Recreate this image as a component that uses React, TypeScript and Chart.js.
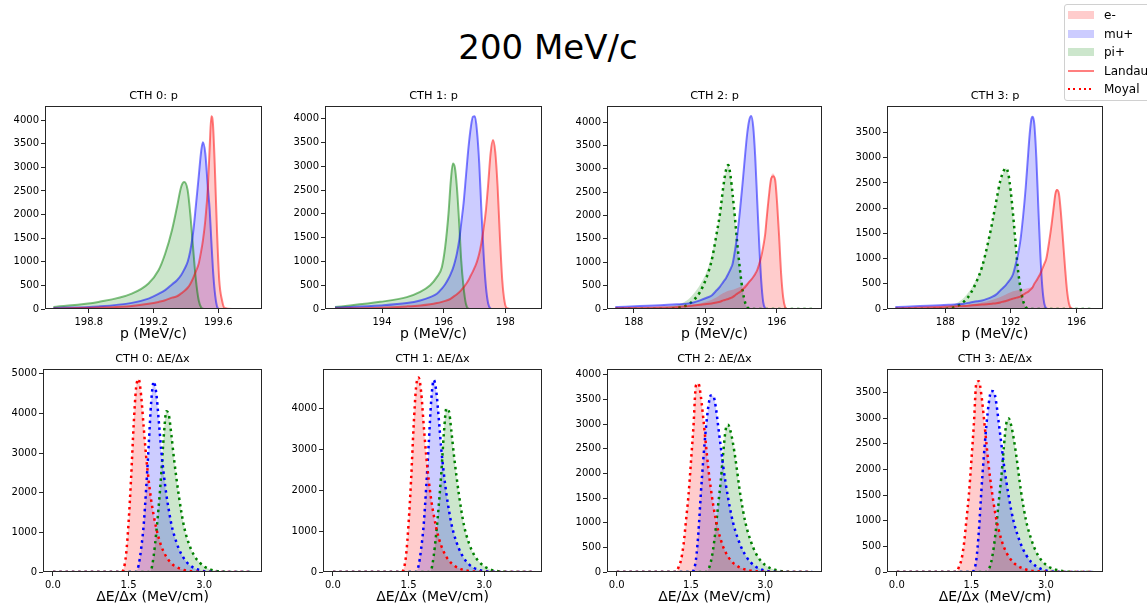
import React, { useEffect, useRef } from "react";
import { Chart, registerables } from "chart.js";

Chart.register(...registerables);

const FONT = "'DejaVu Sans', 'Liberation Sans', Arial, sans-serif";

// ---------------- text ----------------
const FIG_TITLE = "200 MeV/c";
const SPECIES = ["e-", "mu+", "pi+"];
const FIT_NAMES = ["Landau", "Moyal"];
const TITLES_P = ["CTH 0: p", "CTH 1: p", "CTH 2: p", "CTH 3: p"];
const TITLES_DEDX = ["CTH 0: ΔE/Δx", "CTH 1: ΔE/Δx", "CTH 2: ΔE/Δx", "CTH 3: ΔE/Δx"];
const XTITLE_P = "p (MeV/c)";
const XTITLE_DEDX = "ΔE/Δx (MeV/cm)";

// ---------------- ticks ----------------
const P_XTICKS_CTH0 = [198.8, 199.2, 199.6];
const P_XTICK_LABELS_CTH0 = ["198.8", "199.2", "199.6"];
const P_XTICKS_CTH1 = [194, 196, 198];
const P_XTICK_LABELS_CTH1 = ["194", "196", "198"];
const P_XTICKS_CTH2 = [188, 192, 196];
const P_XTICK_LABELS_CTH2 = ["188", "192", "196"];
const P_XTICKS_CTH3 = [188, 192, 196];
const P_XTICK_LABELS_CTH3 = ["188", "192", "196"];
const DEDX_XTICKS = [0, 1.5, 3.0];
const DEDX_XTICK_LABELS = ["0.0", "1.5", "3.0"];

const YTICKS_4000_500 = [0, 500, 1000, 1500, 2000, 2500, 3000, 3500, 4000];
const YTICKS_3500_500 = [0, 500, 1000, 1500, 2000, 2500, 3000, 3500];
const YTICKS_5000_1000 = [0, 1000, 2000, 3000, 4000, 5000];
const YTICKS_4000_1000 = [0, 1000, 2000, 3000, 4000];

// ---------------- axis ranges ----------------
const P_XRANGE_CTH0 = [198.53, 199.87];
const P_XRANGE_CTH1 = [192.15, 199.19];
const P_XRANGE_CTH2 = [186.5, 198.53];
const P_XRANGE_CTH3 = [184.44, 197.62];
const DEDX_XRANGE = [-0.1975, 4.1475];
const P_YMAX = [4300, 4267, 4343, 4027];
const DEDX_YMAX = [5118, 4969, 4115, 3958];

// ---------------- momentum data ----------------
const P_X_CTH0 = [198.582, 198.86, 199.066, 199.169, 199.231, 199.272, 199.314, 199.345, 199.371, 199.39, 199.411, 199.427, 199.444, 199.462, 199.479, 199.495, 199.505, 199.52, 199.536, 199.547, 199.557, 199.567, 199.578, 199.592, 199.606, 199.623, 199.639, 199.685, 199.798];
const P_EM_CTH0 = [8, 30, 65, 110, 150, 185, 240, 270, 330, 380, 450, 530, 650, 800, 960, 1240, 1450, 1880, 2590, 3435, 4085, 3930, 3080, 1670, 610, 185, 20, 0, 0];
const P_MU_CTH0 = [20, 55, 130, 220, 320, 400, 520, 610, 720, 840, 1000, 1230, 1600, 2200, 2800, 3360, 3530, 3290, 2560, 2100, 1455, 850, 380, 60, 0, 0, 0, 0, 0];
const P_PI_CTH0 = [40, 150, 325, 540, 820, 1170, 1670, 2160, 2590, 2690, 2515, 2020, 1315, 610, 185, 30, 5, 0, 0, 0, 0, 0, 0, 0, 0, 0, 0, 0, 0];

const P_X_CTH1 = [192.475, 193.937, 194.804, 195.237, 195.562, 195.778, 195.941, 196.049, 196.157, 196.233, 196.298, 196.363, 196.428, 196.504, 196.569, 196.645, 196.721, 196.807, 196.883, 196.948, 197.013, 197.078, 197.154, 197.219, 197.295, 197.371, 197.446, 197.522, 197.598, 197.674, 197.75, 197.825, 197.901, 197.977, 198.053, 198.27, 198.865];
const P_EM_CTH1 = [8, 28, 55, 75, 100, 125, 150, 170, 195, 220, 250, 280, 310, 350, 395, 455, 520, 610, 710, 790, 885, 990, 1165, 1375, 1690, 2080, 2640, 3270, 3550, 3300, 2570, 1515, 605, 150, 20, 0, 0];
const P_MU_CTH1 = [30, 75, 125, 180, 250, 320, 430, 520, 640, 745, 850, 990, 1165, 1445, 1800, 2220, 2780, 3410, 3830, 4040, 4050, 3760, 3060, 2150, 1165, 465, 110, 10, 0, 0, 0, 0, 0, 0, 0, 0, 0];
const P_PI_CTH1 = [40, 150, 250, 360, 500, 670, 880, 1305, 2010, 2710, 3060, 2975, 2570, 1800, 1025, 460, 110, 5, 0, 0, 0, 0, 0, 0, 0, 0, 0, 0, 0, 0, 0, 0, 0, 0, 0, 0, 0];

const P_X_CTH2 = [186.965, 189.475, 190.405, 190.963, 191.334, 191.706, 192.078, 192.357, 192.636, 192.822, 193.008, 193.157, 193.287, 193.417, 193.529, 193.659, 193.789, 193.938, 194.086, 194.235, 194.347, 194.458, 194.57, 194.681, 194.793, 194.904, 195.016, 195.128, 195.239, 195.351, 195.425, 195.555, 195.686, 195.797, 195.909, 196.02, 196.132, 196.243, 196.355, 196.467, 196.578, 196.913, 197.98];
const P_EM_HIST_CTH2 = [15, 30, 45, 60, 90, 120, 160, 200, 250, 300, 340, 370, 390, 400, 410, 430, 450, 470, 500, 530, 560, 600, 640, 690, 750, 830, 960, 1115, 1330, 1600, 1950, 2450, 2850, 2900, 2780, 2255, 1545, 755, 255, 40, 0, 0, 0];
const P_EM_FIT_CTH2 = [15, 30, 45, 60, 75, 90, 105, 120, 140, 155, 185, 200, 215, 235, 255, 290, 330, 365, 420, 470, 520, 580, 630, 685, 750, 830, 960, 1115, 1330, 1600, 1900, 2400, 2790, 2840, 2760, 2255, 1545, 755, 255, 40, 0, 0, 0];
const P_MU_CTH2 = [45, 80, 100, 115, 140, 185, 240, 290, 400, 480, 580, 660, 755, 860, 970, 1250, 1580, 2100, 2690, 3330, 3760, 4040, 4130, 3900, 3260, 2330, 1400, 615, 150, 15, 0, 0, 0, 0, 0, 0, 0, 0, 0, 0, 0, 0, 0];
const P_PI_HIST_CTH2 = [30, 50, 90, 180, 320, 520, 800, 1150, 1650, 2050, 2600, 2950, 3100, 2850, 2450, 1950, 1400, 850, 400, 130, 40, 8, 0, 0, 0, 0, 0, 0, 0, 0, 0, 0, 0, 0, 0, 0, 0, 0, 0, 0, 0, 0, 0];
const P_PI_FIT_CTH2 = [0, 0, 20, 80, 185, 365, 685, 1040, 1615, 2040, 2615, 2970, 3080, 2830, 2450, 1950, 1400, 850, 400, 130, 40, 8, 0, 0, 0, 0, 0, 0, 0, 0, 0, 0, 0, 0, 0, 0, 0, 0, 0, 0, 0, 0, 0];

const P_X_CTH3 = [184.949, 187.694, 188.305, 188.711, 189.118, 189.525, 189.932, 190.237, 190.542, 190.847, 191.112, 191.356, 191.559, 191.701, 191.844, 191.986, 192.129, 192.271, 192.413, 192.576, 192.739, 192.901, 193.023, 193.146, 193.247, 193.329, 193.43, 193.552, 193.674, 193.796, 193.918, 194.04, 194.162, 194.346, 194.488, 194.61, 194.712, 194.813, 194.935, 195.057, 195.18, 195.302, 195.424, 195.546, 195.668, 195.83, 197.02];
const P_EM_HIST_CTH3 = [12, 40, 50, 60, 70, 90, 110, 130, 150, 180, 210, 240, 270, 290, 310, 330, 350, 360, 370, 380, 390, 400, 410, 420, 430, 450, 500, 560, 630, 700, 800, 895, 1000, 1360, 1700, 2050, 2330, 2380, 2280, 1885, 1360, 830, 370, 105, 20, 0, 0];
const P_EM_FIT_CTH3 = [12, 40, 48, 55, 60, 70, 80, 88, 95, 105, 115, 130, 150, 160, 175, 190, 205, 220, 230, 245, 280, 315, 335, 370, 400, 430, 500, 560, 630, 700, 800, 895, 1000, 1360, 1690, 2015, 2280, 2360, 2280, 1885, 1360, 830, 370, 105, 20, 0, 0];
const P_MU_CTH3 = [40, 72, 85, 95, 105, 130, 155, 170, 200, 240, 290, 370, 430, 480, 540, 600, 690, 860, 1050, 1350, 1820, 2400, 2940, 3470, 3765, 3815, 3665, 3005, 2015, 1095, 435, 105, 15, 0, 0, 0, 0, 0, 0, 0, 0, 0, 0, 0, 0, 0, 0];
const P_PI_HIST_CTH3 = [20, 40, 70, 120, 220, 380, 620, 870, 1250, 1700, 2150, 2520, 2720, 2790, 2680, 2345, 1885, 1360, 830, 435, 170, 40, 10, 2, 0, 0, 0, 0, 0, 0, 0, 0, 0, 0, 0, 0, 0, 0, 0, 0, 0, 0, 0, 0, 0, 0, 0];
const P_PI_FIT_CTH3 = [0, 0, 15, 55, 140, 300, 565, 830, 1225, 1690, 2150, 2545, 2740, 2795, 2680, 2345, 1885, 1360, 830, 435, 170, 40, 10, 2, 0, 0, 0, 0, 0, 0, 0, 0, 0, 0, 0, 0, 0, 0, 0, 0, 0, 0, 0, 0, 0, 0, 0];

// ---------------- dE/dx data ----------------
const DEDX_X = [0, 0.5, 1.0, 1.2, 1.25, 1.3, 1.35, 1.4, 1.45, 1.5, 1.55, 1.6, 1.65, 1.7, 1.75, 1.8, 1.85, 1.9, 1.95, 2.0, 2.05, 2.1, 2.15, 2.2, 2.25, 2.3, 2.35, 2.4, 2.5, 2.6, 2.7, 2.8, 2.9, 3.0, 3.1, 3.2, 3.4, 3.6, 3.95];
const DEDX_EM_CTH0 = [0, 0, 0, 0, 0, 0, 0, 70, 430, 1240, 2360, 3670, 4650, 4860, 4440, 3650, 2900, 2300, 1800, 1420, 1100, 850, 650, 500, 380, 290, 220, 165, 95, 50, 25, 12, 5, 0, 0, 0, 0, 0, 0];
const DEDX_MU_CTH0 = [0, 0, 0, 0, 0, 0, 0, 0, 0, 0, 0, 0, 0, 170, 590, 1180, 2120, 3205, 4300, 4800, 4500, 3800, 3050, 2450, 1950, 1550, 1200, 950, 580, 340, 190, 100, 50, 22, 10, 4, 0, 0, 0];
const DEDX_PI_CTH0 = [0, 0, 0, 0, 0, 0, 0, 0, 0, 0, 0, 0, 0, 0, 0, 0, 0, 0, 60, 420, 1000, 1685, 2500, 3450, 4050, 3950, 3450, 2870, 1900, 1150, 700, 420, 250, 140, 75, 35, 8, 0, 0];

const DEDX_EM_CTH1 = [0, 0, 0, 0, 0, 0, 0, 60, 400, 1180, 2250, 3550, 4530, 4760, 4400, 3600, 2850, 2250, 1760, 1390, 1080, 830, 640, 490, 370, 285, 215, 160, 93, 49, 24, 12, 5, 0, 0, 0, 0, 0, 0];
const DEDX_MU_CTH1 = [0, 0, 0, 0, 0, 0, 0, 0, 0, 0, 0, 0, 0, 160, 570, 1150, 2070, 3130, 4200, 4700, 4420, 3740, 3000, 2410, 1920, 1520, 1180, 930, 570, 335, 185, 98, 49, 22, 10, 4, 0, 0, 0];
const DEDX_PI_CTH1 = [0, 0, 0, 0, 0, 0, 0, 0, 0, 0, 0, 0, 0, 0, 0, 0, 0, 0, 55, 400, 960, 1640, 2430, 3380, 4000, 3940, 3440, 2860, 1890, 1140, 700, 420, 250, 140, 75, 35, 8, 0, 0];

const DEDX_EM_CTH2 = [0, 0, 0, 0, 100, 250, 560, 1050, 1560, 2240, 2950, 3780, 3820, 3550, 3100, 2600, 2100, 1700, 1350, 1070, 840, 660, 510, 400, 310, 240, 185, 145, 85, 50, 28, 15, 8, 4, 0, 0, 0, 0, 0];
const DEDX_MU_CTH2 = [0, 0, 0, 0, 0, 0, 0, 0, 0, 0, 30, 250, 800, 1600, 2300, 2900, 3350, 3580, 3570, 3350, 2950, 2550, 2150, 1800, 1500, 1230, 1000, 820, 540, 340, 200, 115, 60, 30, 12, 5, 0, 0, 0];
const DEDX_PI_CTH2 = [0, 0, 0, 0, 0, 0, 0, 0, 0, 0, 0, 0, 0, 0, 0, 0, 50, 200, 480, 880, 1370, 1830, 2400, 2880, 2985, 2850, 2600, 2280, 1550, 1000, 650, 400, 240, 140, 80, 45, 10, 0, 0];

const DEDX_EM_CTH3 = [0, 0, 0, 0, 100, 240, 540, 1010, 1510, 2170, 2880, 3680, 3720, 3460, 3020, 2530, 2050, 1660, 1320, 1040, 820, 640, 500, 390, 300, 235, 180, 140, 83, 49, 27, 15, 8, 4, 0, 0, 0, 0, 0];
const DEDX_MU_CTH3 = [0, 0, 0, 0, 0, 0, 0, 0, 0, 0, 30, 245, 790, 1570, 2250, 2840, 3290, 3530, 3520, 3300, 2910, 2520, 2120, 1780, 1480, 1210, 985, 810, 530, 335, 197, 113, 59, 30, 12, 5, 0, 0, 0];
const DEDX_PI_CTH3 = [0, 0, 0, 0, 0, 0, 0, 0, 0, 0, 0, 0, 0, 0, 0, 0, 50, 200, 480, 880, 1370, 1830, 2400, 2880, 2995, 2860, 2610, 2290, 1560, 1000, 650, 400, 240, 140, 80, 45, 10, 0, 0];

// ---------------- styles ----------------
const FILL = ["rgba(255,0,0,0.2)", "rgba(0,0,255,0.2)", "rgba(0,128,0,0.2)"];
const LANDAU = ["rgba(255,0,0,0.5)", "rgba(0,0,255,0.5)", "rgba(0,128,0,0.5)"];
const MOYAL = ["#ff0000", "#0000ff", "#008000"];

type Series = { sp: number; hist: number[]; fit: number[]; kind: "landau" | "moyal" };
type PanelCfg = {
  title: string;
  xTitle: string;
  xs: number[];
  series: Series[];
  xRange: number[];
  yMax: number;
  xTicks: number[];
  xTickLabels: string[];
  yTicks: number[];
  box: { l: number; t: number; w: number; h: number };
};

const L = (sp: number, d: number[]): Series => ({ sp, hist: d, fit: d, kind: "landau" });
const M = (sp: number, d: number[]): Series => ({ sp, hist: d, fit: d, kind: "moyal" });

const PANELS: PanelCfg[] = [
  {
    title: TITLES_P[0], xTitle: XTITLE_P, xs: P_X_CTH0,
    series: [L(0, P_EM_CTH0), L(1, P_MU_CTH0), L(2, P_PI_CTH0)],
    xRange: P_XRANGE_CTH0, yMax: P_YMAX[0], xTicks: P_XTICKS_CTH0, xTickLabels: P_XTICK_LABELS_CTH0,
    yTicks: YTICKS_4000_500, box: { l: 45, t: 106, w: 217, h: 203 },
  },
  {
    title: TITLES_P[1], xTitle: XTITLE_P, xs: P_X_CTH1,
    series: [L(0, P_EM_CTH1), L(1, P_MU_CTH1), L(2, P_PI_CTH1)],
    xRange: P_XRANGE_CTH1, yMax: P_YMAX[1], xTicks: P_XTICKS_CTH1, xTickLabels: P_XTICK_LABELS_CTH1,
    yTicks: YTICKS_4000_500, box: { l: 325, t: 106, w: 217, h: 203 },
  },
  {
    title: TITLES_P[2], xTitle: XTITLE_P, xs: P_X_CTH2,
    series: [
      { sp: 0, hist: P_EM_HIST_CTH2, fit: P_EM_FIT_CTH2, kind: "landau" },
      L(1, P_MU_CTH2),
      { sp: 2, hist: P_PI_HIST_CTH2, fit: P_PI_FIT_CTH2, kind: "moyal" },
    ],
    xRange: P_XRANGE_CTH2, yMax: P_YMAX[2], xTicks: P_XTICKS_CTH2, xTickLabels: P_XTICK_LABELS_CTH2,
    yTicks: YTICKS_4000_500, box: { l: 607, t: 106, w: 215, h: 203 },
  },
  {
    title: TITLES_P[3], xTitle: XTITLE_P, xs: P_X_CTH3,
    series: [
      { sp: 0, hist: P_EM_HIST_CTH3, fit: P_EM_FIT_CTH3, kind: "landau" },
      L(1, P_MU_CTH3),
      { sp: 2, hist: P_PI_HIST_CTH3, fit: P_PI_FIT_CTH3, kind: "moyal" },
    ],
    xRange: P_XRANGE_CTH3, yMax: P_YMAX[3], xTicks: P_XTICKS_CTH3, xTickLabels: P_XTICK_LABELS_CTH3,
    yTicks: YTICKS_3500_500, box: { l: 887, t: 106, w: 216, h: 203 },
  },
  {
    title: TITLES_DEDX[0], xTitle: XTITLE_DEDX, xs: DEDX_X,
    series: [M(0, DEDX_EM_CTH0), M(1, DEDX_MU_CTH0), M(2, DEDX_PI_CTH0)],
    xRange: DEDX_XRANGE, yMax: DEDX_YMAX[0], xTicks: DEDX_XTICKS, xTickLabels: DEDX_XTICK_LABELS,
    yTicks: YTICKS_5000_1000, box: { l: 43, t: 369, w: 219, h: 203 },
  },
  {
    title: TITLES_DEDX[1], xTitle: XTITLE_DEDX, xs: DEDX_X,
    series: [M(0, DEDX_EM_CTH1), M(1, DEDX_MU_CTH1), M(2, DEDX_PI_CTH1)],
    xRange: DEDX_XRANGE, yMax: DEDX_YMAX[1], xTicks: DEDX_XTICKS, xTickLabels: DEDX_XTICK_LABELS,
    yTicks: YTICKS_4000_1000, box: { l: 323, t: 369, w: 219, h: 203 },
  },
  {
    title: TITLES_DEDX[2], xTitle: XTITLE_DEDX, xs: DEDX_X,
    series: [M(0, DEDX_EM_CTH2), M(1, DEDX_MU_CTH2), M(2, DEDX_PI_CTH2)],
    xRange: DEDX_XRANGE, yMax: DEDX_YMAX[2], xTicks: DEDX_XTICKS, xTickLabels: DEDX_XTICK_LABELS,
    yTicks: YTICKS_4000_500, box: { l: 607, t: 369, w: 215, h: 203 },
  },
  {
    title: TITLES_DEDX[3], xTitle: XTITLE_DEDX, xs: DEDX_X,
    series: [M(0, DEDX_EM_CTH3), M(1, DEDX_MU_CTH3), M(2, DEDX_PI_CTH3)],
    xRange: DEDX_XRANGE, yMax: DEDX_YMAX[3], xTicks: DEDX_XTICKS, xTickLabels: DEDX_XTICK_LABELS,
    yTicks: YTICKS_3500_500, box: { l: 887, t: 369, w: 216, h: 203 },
  },
];

// layout constants for each canvas around its plot area
const Y_AXIS_W = 45;
const X_AXIS_H = 37;
const TITLE_H = 20;
const PAD_R = 8;

const framePlugin = {
  id: "frame",
  afterDatasetsDraw(chart: any) {
    const { ctx, chartArea: a } = chart;
    ctx.save();
    ctx.strokeStyle = "#262626";
    ctx.lineWidth = 1;
    ctx.strokeRect(Math.round(a.left) + 0.5, Math.round(a.top) + 0.5, Math.round(a.right - a.left) - 1, Math.round(a.bottom - a.top) - 1);
    ctx.restore();
  },
};

function buildConfig(p: PanelCfg): any {
  const datasets: any[] = [];
  p.series.forEach((s) => {
    datasets.push({
      label: SPECIES[s.sp],
      data: p.xs.map((x, i) => ({ x, y: s.hist[i] })),
      fill: "origin",
      backgroundColor: FILL[s.sp],
      borderWidth: 0,
      borderColor: "rgba(0,0,0,0)",
      pointRadius: 0,
      cubicInterpolationMode: "monotone",
      order: 2,
    });
  });
  p.series.forEach((s) => {
    const moyal = s.kind === "moyal";
    datasets.push({
      label: SPECIES[s.sp] + " " + (moyal ? FIT_NAMES[1] : FIT_NAMES[0]),
      data: p.xs.map((x, i) => ({ x, y: s.fit[i] })),
      fill: false,
      borderColor: moyal ? MOYAL[s.sp] : LANDAU[s.sp],
      borderWidth: moyal ? 2.5 : 2,
      borderDash: moyal ? [2.5, 3.8] : [],
      borderCapStyle: "butt",
      pointRadius: 0,
      cubicInterpolationMode: "monotone",
      order: 1,
    });
  });
  const tickFont = { family: FONT, size: 10 };
  return {
    type: "line",
    data: { datasets },
    plugins: [framePlugin],
    options: {
      animation: false,
      responsive: false,
      devicePixelRatio: 1,
      layout: { padding: { left: 0, right: PAD_R, top: 0, bottom: 0 } },
      plugins: {
        legend: { display: false },
        tooltip: { enabled: false },
        title: {
          display: true,
          fullSize: false,
          text: p.title,
          color: "#000",
          font: { family: FONT, size: 11.3, weight: "normal", lineHeight: 1.2 },
          padding: { top: TITLE_H - 11.3 * 1.2 - 3, bottom: 3 },
        },
      },
      scales: {
        x: {
          type: "linear",
          min: p.xRange[0],
          max: p.xRange[1],
          afterBuildTicks: (s: any) => {
            s.ticks = p.xTicks.map((v) => ({ value: v }));
          },
          afterFit: (s: any) => {
            s.height = X_AXIS_H;
          },
          ticks: {
            autoSkip: false,
            maxRotation: 0,
            minRotation: 0,
            padding: 3,
            color: "#000",
            font: tickFont,
            callback: (_v: any, i: number) => p.xTickLabels[i],
          },
          grid: { display: true, drawOnChartArea: false, drawTicks: true, tickLength: 4, color: "#262626", lineWidth: 1 },
          border: { display: false },
          title: {
            display: true,
            text: p.xTitle,
            color: "#000",
            font: { family: FONT, size: 14, lineHeight: 1.2 },
            padding: { top: 0, bottom: 3.6 },
          },
        },
        y: {
          type: "linear",
          min: 0,
          max: p.yMax,
          afterBuildTicks: (s: any) => {
            s.ticks = p.yTicks.map((v) => ({ value: v }));
          },
          afterFit: (s: any) => {
            s.width = Y_AXIS_W;
          },
          ticks: {
            padding: 2,
            color: "#000",
            font: tickFont,
            callback: (v: any) => String(v),
          },
          grid: { display: true, drawOnChartArea: false, drawTicks: true, tickLength: 4, color: "#262626", lineWidth: 1 },
          border: { display: false },
        },
      },
    },
  };
}

function Panel({ p }: { p: PanelCfg }) {
  const ref = useRef<HTMLCanvasElement | null>(null);
  const w = Y_AXIS_W + p.box.w + PAD_R;
  const h = TITLE_H + p.box.h + X_AXIS_H;
  useEffect(() => {
    if (!ref.current) return;
    const chart = new Chart(ref.current, buildConfig(p));
    return () => chart.destroy();
  }, [p]);
  return (
    <canvas
      ref={ref}
      width={w}
      height={h}
      style={{ position: "absolute", left: p.box.l - Y_AXIS_W, top: p.box.t - TITLE_H, width: w, height: h }}
    />
  );
}

function Legend() {
  const rows = [15, 33.5, 52, 70.5, 89];
  const textStyle = (cy: number): React.CSSProperties => ({
    position: "absolute",
    left: 1104,
    top: cy - 8,
    height: 16,
    lineHeight: "16px",
    fontSize: 12,
    color: "#000",
    whiteSpace: "nowrap",
  });
  return (
    <>
      <div
        style={{
          position: "absolute",
          left: 1064,
          top: 4,
          width: 110,
          height: 97,
          border: "1px solid #d0d0d0",
          borderRadius: 3,
          background: "rgba(255,255,255,0.8)",
          boxSizing: "border-box",
        }}
      />
      {SPECIES.map((s, i) => (
        <React.Fragment key={s}>
          <div style={{ position: "absolute", left: 1068, top: rows[i] - 4, width: 26, height: 8, background: FILL[i] }} />
          <div style={textStyle(rows[i])}>{s}</div>
        </React.Fragment>
      ))}
      <div style={{ position: "absolute", left: 1068, top: rows[3] - 1, width: 26, height: 2, background: LANDAU[0] }} />
      <div style={textStyle(rows[3])}>{FIT_NAMES[0]}</div>
      <div
        style={{
          position: "absolute",
          left: 1068,
          top: rows[4] - 1,
          width: 26,
          height: 2,
          background: "repeating-linear-gradient(to right, #ff0000 0px, #ff0000 2px, transparent 2px, transparent 5.3px)",
        }}
      />
      <div style={textStyle(rows[4])}>{FIT_NAMES[1]}</div>
    </>
  );
}

export default function App() {
  return (
    <div
      style={{
        position: "absolute",
        left: 0,
        top: 0,
        width: 1147,
        height: 605,
        overflow: "hidden",
        background: "#fff",
        fontFamily: FONT,
      }}
    >
      <div
        style={{
          position: "absolute",
          left: 348,
          width: 400,
          top: 30,
          height: 34,
          lineHeight: "34px",
          fontSize: 34,
          textAlign: "center",
          color: "#000",
        }}
      >
        {FIG_TITLE}
      </div>
      {PANELS.map((p, i) => (
        <Panel key={i} p={p} />
      ))}
      <Legend />
    </div>
  );
}
